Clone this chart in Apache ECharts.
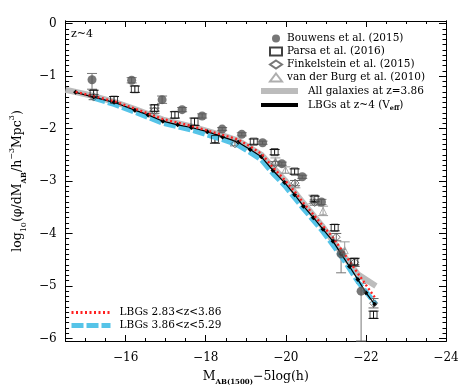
<!DOCTYPE html>
<html>
<head>
<meta charset="utf-8">
<script src="https://cdn.jsdelivr.net/npm/echarts@6/dist/echarts.min.js"></script>
<style>
  html, body { margin: 0; padding: 0; background: #fff; }
  #chart { width: 469px; height: 391px; }
</style>
</head>
<body>
<div id="chart"></div>
<script>
// [M, log phi, lower end, upper end]
const bouwens = [
  [-15.16, -1.07, -1.25, -0.95],
  [-16.15, -1.08, -1.13, -1.03],
  [-16.91, -1.45, -1.52, -1.38],
  [-17.41, -1.64, -1.68, -1.60],
  [-17.91, -1.76, -1.80, -1.72],
  [-18.41, -2.01, -2.04, -1.98],
  [-18.90, -2.11, -2.14, -2.08],
  [-19.42, -2.27, -2.30, -2.24],
  [-19.90, -2.67, -2.70, -2.64],
  [-20.41, -2.92, -2.95, -2.89],
  [-20.89, -3.40, -3.45, -3.35],
  [-21.38, -4.39, -4.75, -4.30],
  [-21.88, -5.10, -6.05, -4.95]
]
const parsa = [
  [-15.20, -1.33, -1.39, -1.27],
  [-15.71, -1.45, -1.51, -1.39],
  [-16.23, -1.25, -1.31, -1.19],
  [-16.72, -1.61, -1.67, -1.55],
  [-17.23, -1.74, -1.80, -1.68],
  [-17.72, -1.87, -1.94, -1.80],
  [-18.23, -2.20, -2.28, -2.12],
  [-19.20, -2.25, -2.30, -2.20],
  [-19.72, -2.45, -2.50, -2.40],
  [-20.22, -2.82, -2.87, -2.77],
  [-20.72, -3.34, -3.39, -3.29],
  [-21.22, -3.89, -3.95, -3.83],
  [-21.71, -4.54, -4.60, -4.48],
  [-22.19, -5.55, -5.62, -5.48]
]
const finkelstein = [
  [-15.20, -1.40, -1.45, -1.35],
  [-16.72, -1.66, -1.71, -1.61],
  [-18.73, -2.29, -2.33, -2.25],
  [-19.74, -2.67, -2.71, -2.63],
  [-20.23, -3.04, -3.09, -2.99],
  [-20.72, -3.41, -3.46, -3.36],
  [-21.26, -4.07, -4.14, -4.00],
  [-21.72, -4.55, -4.63, -4.47],
  [-22.19, -5.33, -5.42, -5.24]
]
const vanDerBurg = [
  [-19.74, -2.62, -2.68, -2.56],
  [-19.99, -2.79, -2.85, -2.73],
  [-20.24, -3.06, -3.13, -2.99],
  [-20.69, -3.35, -3.43, -3.27],
  [-20.93, -3.57, -3.66, -3.48],
  [-21.47, -4.32, -4.48, -4.16]
]
const allGalaxies = [
  [-14.50, -1.26], [-15.20, -1.38], [-15.71, -1.49], [-16.23, -1.63],
  [-16.93, -1.83], [-17.64, -1.96], [-18.42, -2.13], [-18.81, -2.23],
  [-19.39, -2.50], [-19.97, -2.98], [-20.44, -3.42], [-20.93, -3.88],
  [-21.38, -4.36], [-21.80, -4.78], [-22.25, -5.00]
]
const lbgVeff = [
  [-14.75, -1.31], [-15.20, -1.40], [-15.71, -1.50], [-16.23, -1.65],
  [-16.56, -1.74], [-16.93, -1.86], [-17.30, -1.93], [-17.64, -1.98],
  [-18.04, -2.06], [-18.42, -2.16], [-18.81, -2.26], [-19.11, -2.40],
  [-19.39, -2.54], [-19.68, -2.80], [-19.97, -3.03], [-20.22, -3.26],
  [-20.44, -3.48], [-20.69, -3.70], [-20.93, -3.92], [-21.18, -4.15],
  [-21.38, -4.39], [-21.59, -4.63], [-21.80, -4.88], [-22.00, -5.13],
  [-22.22, -5.35]
]
const lbgLowZ = [
  [-14.75, -1.30], [-15.71, -1.48], [-16.23, -1.62], [-16.93, -1.82],
  [-17.64, -1.95], [-18.42, -2.12], [-18.81, -2.21], [-19.11, -2.34],
  [-19.39, -2.48], [-19.68, -2.74], [-19.97, -2.98], [-20.22, -3.20],
  [-20.44, -3.42], [-20.69, -3.64], [-20.93, -3.86], [-21.18, -4.08],
  [-21.38, -4.30], [-21.59, -4.53], [-21.80, -4.76], [-22.00, -4.98],
  [-22.25, -5.25]
]
const lbgHighZ = [
  [-15.20, -1.42], [-15.71, -1.54], [-16.23, -1.69], [-16.93, -1.90],
  [-17.64, -2.03], [-18.42, -2.21], [-18.81, -2.32], [-19.11, -2.46],
  [-19.39, -2.60], [-19.68, -2.86], [-19.97, -3.09], [-20.44, -3.53],
  [-20.93, -3.97], [-21.38, -4.43], [-21.80, -4.92], [-22.25, -5.35]
]
const xLabels = [-16, -18, -20, -22, -24]
const yLabels = [0, -1, -2, -3, -4, -5, -6]

const xMinor = []
for (let v = -24; v <= -14.5; v += 0.5) xMinor.push(v)
const yMinor = []
for (let i = -60; i <= 0; i++) yMinor.push(i / 10)

const font = 'DejaVu Serif'
const minus = (v) => String(v).replace('-', '\u2212')

const X_MIN = -24, X_MAX = -14.5, Y_MIN = -6.05, Y_MAX = 0.05

function xAx(pos, ticks, len, opts) {
  return Object.assign({
    type: 'value', position: pos, min: X_MIN, max: X_MAX, inverse: true,
    axisLine: { show: true, onZero: false, lineStyle: { color: '#000', width: 1 } },
    axisTick: { show: true, inside: true, length: len, customValues: ticks, lineStyle: { color: '#000' } },
    axisLabel: { show: false },
    splitLine: { show: false }
  }, opts || {})
}
function yAx(pos, ticks, len, opts) {
  return Object.assign({
    type: 'value', position: pos, min: Y_MIN, max: Y_MAX,
    axisLine: { show: true, onZero: false, lineStyle: { color: '#000', width: 1 } },
    axisTick: { show: true, inside: true, length: len, customValues: ticks, lineStyle: { color: '#000' } },
    axisLabel: { show: false },
    splitLine: { show: false }
  }, opts || {})
}

function errorBars(name, data, color) {
  return {
    type: 'custom',
    name: name + ' err',
    data: data,
    z: 2,
    silent: true,
    renderItem(params, api) {
      const x = api.value(0)
      const lo = api.coord([x, api.value(2)])
      const hi = api.coord([x, api.value(3)])
      const cw = 5
      const style = { stroke: color, lineWidth: 1 }
      return {
        type: 'group',
        children: [
          { type: 'line', shape: { x1: lo[0], y1: lo[1], x2: hi[0], y2: hi[1] }, style },
          { type: 'line', shape: { x1: lo[0] - cw, y1: lo[1], x2: lo[0] + cw, y2: lo[1] }, style },
          { type: 'line', shape: { x1: hi[0] - cw, y1: hi[1], x2: hi[0] + cw, y2: hi[1] }, style }
        ]
      }
    }
  }
}

const clear = 'rgba(0,0,0,0)'
const chart = echarts.init(document.getElementById('chart'))
chart.setOption({
  animation: false,
  backgroundColor: '#fff',
  textStyle: { fontFamily: font },
  grid: { left: 61, right: 23, top: 21, bottom: 44 },
  xAxis: [
    xAx('bottom', xMinor, 3, {
      axisLabel: {
        show: true, customValues: xLabels, margin: 11, color: '#000',
        fontFamily: font, fontSize: 12, formatter: minus
      },
      name: '{m|M}{s|AB(1500)}{m|\u22125log(h)}',
      nameLocation: 'middle',
      nameGap: 27,
      nameTextStyle: {
        color: '#000', fontFamily: font, fontSize: 12.5,
        rich: {
          m: { fontFamily: font, fontSize: 12.5, color: '#000', lineHeight: 18 },
          s: { fontFamily: font, fontSize: 7, fontWeight: 'bold', color: '#000', lineHeight: 9, verticalAlign: 'bottom' }
        }
      }
    }),
    xAx('bottom', xLabels, 6),
    xAx('top', xMinor, 3),
    xAx('top', xLabels, 6)
  ],
  yAxis: [
    yAx('left', yMinor, 3.5, {
      axisLabel: {
        show: true, customValues: yLabels, margin: 9, color: '#000',
        fontFamily: font, fontSize: 12, formatter: minus
      },
      name: '{m|log}{s|10}{m|(\u03c6/dM}{b|AB}{m|/h}{p|\u22123}{m|Mpc}{p|3}{m|)}',
      nameLocation: 'middle',
      nameGap: 27,
      nameRotate: 90,
      nameTextStyle: {
        color: '#000', fontFamily: font, fontSize: 12.5,
        rich: {
          m: { fontFamily: font, fontSize: 12.5, color: '#000', lineHeight: 20 },
          s: { fontFamily: font, fontSize: 8, color: '#000', lineHeight: 11, verticalAlign: 'bottom' },
          b: { fontFamily: font, fontSize: 7, fontWeight: 'bold', color: '#000', lineHeight: 10, verticalAlign: 'bottom' },
          p: { fontFamily: font, fontSize: 8, color: '#000', lineHeight: 10, verticalAlign: 'top' }
        }
      }
    }),
    yAx('left', yLabels, 7),
    yAx('right', yMinor, 3.5),
    yAx('right', yLabels, 7)
  ],
  legend: [
    {
      orient: 'vertical', left: 269, top: 32, padding: 0, itemWidth: 12, itemHeight: 8, itemGap: 0,
      textStyle: { fontFamily: font, fontSize: 10.5, color: '#000', lineHeight: 13 },
      data: ['Bouwens et al. (2015)', 'Parsa et al. (2016)', 'Finkelstein et al. (2015)', 'van der Burg et al. (2010)']
    },
    {
      orient: 'vertical', left: 258, top: 84, padding: 0, itemWidth: 37, itemHeight: 10, itemGap: 0,
      textStyle: { fontFamily: font, fontSize: 10.5, color: '#000', padding: [0, 0, 0, 5], lineHeight: 14,
        rich: { s: { fontFamily: font, fontSize: 6.5, fontWeight: 'bold', verticalAlign: 'bottom', lineHeight: 9 } } },
      formatter: (n) => n.replace('(Veff)', '(V{s|eff})'),
      data: [
        { name: 'All galaxies at z=3.86', itemStyle: { opacity: 0 }, lineStyle: { width: 6 } },
        { name: 'LBGs at z~4 (Veff)', itemStyle: { opacity: 0 }, lineStyle: { width: 4 } }
      ]
    },
    {
      orient: 'vertical', left: 69, top: 306, padding: 0, itemWidth: 39, itemHeight: 10, itemGap: 0,
      textStyle: { fontFamily: font, fontSize: 10.5, color: '#000', padding: [0, 0, 0, 4], lineHeight: 13 },
      data: [
        { name: 'LBGs 2.83<z<3.86', itemStyle: { opacity: 0 }, lineStyle: { width: 3 } },
        { name: 'LBGs 3.86<z<5.29', itemStyle: { opacity: 0 }, lineStyle: { width: 5 } }
      ]
    }
  ],
  series: [
    {
      name: 'All galaxies at z=3.86', type: 'line', data: allGalaxies, z: 1,
      symbol: 'none', lineStyle: { color: '#bcbcbc', width: 6 }, itemStyle: { color: '#bcbcbc' }
    },
    {
      name: 'LBGs 3.86<z<5.29', type: 'line', data: lbgHighZ, z: 3,
      symbol: 'none', lineStyle: { color: '#56c4e8', width: 5, type: [12, 3] }, itemStyle: { color: '#56c4e8' }
    },
    {
      name: 'LBGs at z~4 (Veff)', type: 'line', data: lbgVeff, z: 4,
      symbol: 'diamond', symbolSize: 5, showSymbol: true,
      lineStyle: { color: '#000', width: 1.2 }, itemStyle: { color: '#000' }
    },
    {
      name: 'LBGs 2.83<z<3.86', type: 'line', data: lbgLowZ, z: 5,
      symbol: 'none', lineStyle: { color: '#ff2020', width: 2.4, type: [2, 2.5] }, itemStyle: { color: '#ff2020' }
    },
    errorBars('vdb', vanDerBurg, '#9a9a9a'),
    errorBars('fink', finkelstein, '#666'),
    errorBars('parsa', parsa, '#111'),
    errorBars('bouwens', bouwens, '#777'),
    {
      name: 'van der Burg et al. (2010)', type: 'scatter', data: vanDerBurg, z: 6,
      symbol: 'triangle', symbolSize: 7,
      itemStyle: { color: clear, borderColor: '#9a9a9a', borderWidth: 1 }
    },
    {
      name: 'Finkelstein et al. (2015)', type: 'scatter', data: finkelstein, z: 6,
      symbol: 'diamond', symbolSize: 8,
      itemStyle: { color: clear, borderColor: '#555', borderWidth: 1 }
    },
    {
      name: 'Parsa et al. (2016)', type: 'scatter', data: parsa, z: 6,
      symbol: 'rect', symbolSize: 7,
      itemStyle: { color: clear, borderColor: '#111', borderWidth: 1 }
    },
    {
      name: 'Bouwens et al. (2015)', type: 'scatter', data: bouwens, z: 7,
      symbol: 'circle', symbolSize: 9,
      itemStyle: { color: '#555' }
    }
  ],
  graphic: [
    { type: 'text', left: 71, top: 29, style: { text: 'z~4', fontFamily: font, fontSize: 11, fill: '#000' } }
  ]
})
</script>
</body>
</html>
